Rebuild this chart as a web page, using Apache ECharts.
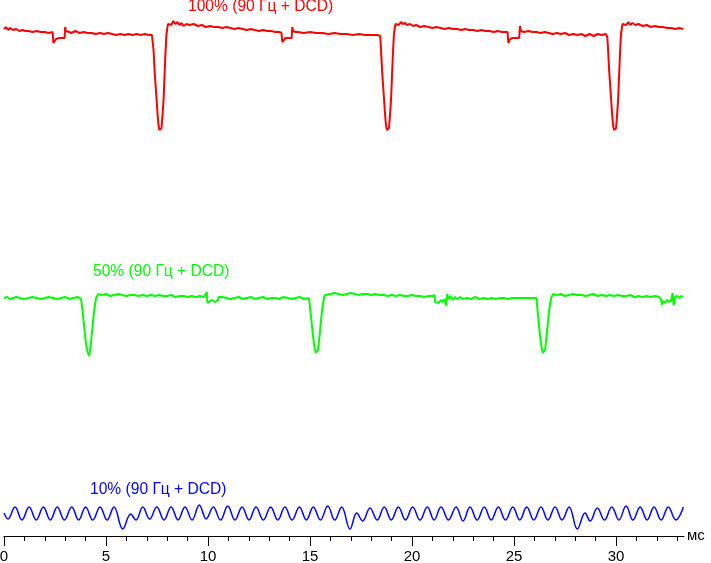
<!DOCTYPE html>
<html>
<head>
<meta charset="utf-8">
<script src="https://cdn.jsdelivr.net/npm/echarts@6/dist/echarts.min.js"></script>
<style>
html,body{margin:0;padding:0;background:#fff;}
#chart{width:711px;height:563px;}
</style>
</head>
<body>
<div id="chart"></div>
<script>
// time axis (ms) tick values
const majorTicks = [0, 5, 10, 15, 20, 25, 30];
const minorTicks = [1,2,3,4,6,7,8,9,11,12,13,14,16,17,18,19,21,22,23,24,26,27,28,29,31,32,33];
const axisMax = 33.33;

// series names
const seriesNames = ['100% (90 Гц + DCD)', '50% (90 Гц + DCD)', '10% (90 Гц + DCD)'];

// brightness traces: [time ms, level (arbitrary units)]
const red100 = [
[0,507],[0.1,509],[0.2,506],[0.3,508],[0.45,506],[0.6,507],[0.75,505],[0.9,506],[1.05,505],[1.2,505],[1.4,504],[1.6,505],[1.8,504],[2.0,504],[2.2,503],[2.38,504],
[2.42,493],[2.47,495],[2.55,497],[2.7,498],[2.85,498],[2.97,498],[3.0,509],[3.03,505],[3.2,504],
[3.3,503],[3.5,505],[3.7,503],[3.9,504],[4.1,503],[4.3,503],[4.5,502],[4.7,503],[4.9,502],[5.1,503],[5.3,502],[5.5,501],[5.7,502],[5.9,501],[6.1,502],[6.3,501],[6.5,502],[6.7,501],[6.9,502],[7.1,501],[7.25,501],
[7.29,500],[7.33,486],[7.38,466],[7.43,451],[7.48,436],[7.53,421],[7.57,411],[7.62,406],[7.67,404],[7.72,408],[7.77,421],[7.82,436],[7.86,456],[7.91,481],[7.96,501],[8.01,509],[8.04,512],
[8.1,514],[8.2,511],[8.3,515],[8.4,512],[8.5,514],[8.6,511],[8.7,513],[8.8,510],[8.95,512],[9.1,511],[9.3,512],[9.5,510],[9.7,511],[9.9,509],[10.1,510],[10.3,509],[10.5,509],[10.7,508],[10.9,509],[11.1,508],[11.3,507],[11.5,508],[11.7,507],[11.9,506],[12.1,507],[12.3,506],[12.5,505],[12.7,506],[12.9,505],[13.1,505],[13.3,504],[13.5,504],[13.6,503],
[13.64,494],[13.7,496],[13.8,498],[14.0,498],[14.1,498],[14.13,509],[14.17,505],[14.3,504],
[14.4,504],[14.7,503],[15.0,504],[15.3,503],[15.6,503],[15.9,502],[16.2,503],[16.5,502],[16.8,502],[17.1,501],[17.4,502],[17.7,501],[18.0,501],[18.3,501],[18.44,500],
[18.48,486],[18.53,466],[18.58,451],[18.63,436],[18.68,421],[18.72,411],[18.77,406],[18.82,404],[18.87,408],[18.92,421],[18.97,436],[19.01,456],[19.06,481],[19.11,501],[19.16,509],[19.19,512],
[19.25,514],[19.35,511],[19.45,514],[19.55,512],[19.65,513],[19.75,511],[19.9,512],[20.05,510],[20.2,511],[20.4,509],[20.6,510],[20.8,509],[21.0,508],[21.2,509],[21.4,508],[21.6,507],[21.8,508],[22.0,507],[22.2,507],[22.4,506],[22.6,507],[22.8,506],[23.0,506],[23.2,505],[23.4,506],[23.6,505],[23.8,505],[24.0,504],[24.2,505],[24.4,504],[24.68,504],
[24.72,493],[24.78,496],[24.9,498],[25.1,498],[25.25,498],[25.29,510],[25.33,505],[25.5,504],[25.7,505],[25.9,504],[26.1,504],[26.3,503],[26.5,504],[26.7,503],[26.9,502],[27.1,503],[27.3,502],[27.5,503],[27.7,501],[27.9,502],[28.1,501],[28.3,502],[28.5,500],[28.7,502],[28.9,500],[29.1,502],[29.3,501],[29.5,502],[29.55,500],
[29.57,499],[29.61,486],[29.66,466],[29.71,451],[29.76,436],[29.81,421],[29.85,411],[29.9,406],[29.95,404],[30.0,408],[30.05,421],[30.1,436],[30.14,456],[30.19,481],[30.24,501],[30.29,509],[30.32,512],
[30.4,513],[30.5,511],[30.6,514],[30.7,511],[30.8,513],[30.95,511],[31.1,512],[31.3,510],[31.5,511],[31.7,509],[31.9,510],[32.1,509],[32.3,509],[32.5,508],[32.7,508],[32.9,507],[33.1,508],[33.3,507]
];

const green50 = [
[0,238],[0.15,239],[0.3,237],[0.45,238],[0.6,239],[0.8,238],[1.0,237],[1.2,238],[1.4,239],[1.6,238],[1.8,237],[2.0,238],[2.2,239],[2.4,238],[2.6,237],[2.8,238],[3.0,239],[3.2,237],[3.4,238],[3.6,239],[3.78,237],
[3.82,236],[3.87,221],[3.92,211],[3.97,201],[4.02,193],[4.07,186],[4.12,183],[4.17,180],[4.22,186],[4.26,193],[4.31,203],[4.36,214],[4.41,224],[4.46,231],[4.51,238],[4.56,240],[4.62,242],
[4.8,241],[5.0,242],[5.2,240],[5.4,241],[5.6,242],[5.8,241],[6.0,240],[6.2,241],[6.4,241],[6.6,240],[6.8,241],[7.0,240],[7.2,241],[7.4,240],[7.6,241],[7.8,240],[8.0,240],[8.2,241],[8.4,239],[8.6,240],[8.8,240],[9.0,239],[9.2,240],[9.4,239],[9.6,240],[9.8,239],[9.94,244],
[9.97,233],[10.05,235],[10.2,236],[10.35,234],[10.49,236],[10.52,239],
[10.7,239],[10.9,238],[11.1,237],[11.3,238],[11.5,239],[11.7,237],[11.9,238],[12.1,239],[12.3,237],[12.5,238],[12.7,239],[12.9,237],[13.1,238],[13.3,238],[13.5,237],[13.7,239],[13.9,238],[14.1,237],[14.3,238],[14.5,239],[14.7,237],[14.95,238],
[14.99,236],[15.04,221],[15.09,211],[15.14,201],[15.19,193],[15.24,186],[15.29,183],[15.34,181],[15.39,186],[15.43,193],[15.48,203],[15.53,214],[15.58,224],[15.63,231],[15.68,238],[15.73,241],[15.8,243],
[16.0,242],[16.2,243],[16.4,242],[16.6,241],[16.8,242],[17.0,243],[17.2,242],[17.4,241],[17.6,242],[17.8,242],[18.0,241],[18.2,242],[18.4,241],[18.6,241],[18.8,240],[19.0,241],[19.2,240],[19.4,241],[19.6,240],[19.8,240],[20.0,241],[20.2,240],[20.4,240],[20.6,239],[20.8,240],[21.0,240],[21.1,241],
[21.13,234],[21.2,236],[21.3,233],[21.4,236],[21.5,234],[21.6,237],[21.68,230],[21.72,242],[21.8,237],[21.9,240],[22.0,236],[22.1,239],[22.2,237],[22.35,239],[22.5,237],[22.7,238],[22.9,237],[23.1,239],[23.3,237],[23.5,238],[23.7,237],[23.9,238],[24.1,237],[24.3,238],[24.5,238],[24.7,237],[24.9,238],[25.1,238],[25.3,238],[25.6,238],[25.9,238],[26.1,238],
[26.12,236],[26.17,221],[26.22,211],[26.27,201],[26.32,193],[26.37,186],[26.42,183],[26.47,182],[26.52,186],[26.56,193],[26.61,203],[26.66,214],[26.71,224],[26.76,231],[26.81,238],[26.86,240],[26.92,242],
[27.1,241],[27.3,242],[27.5,240],[27.7,241],[27.9,242],[28.1,241],[28.3,241],[28.5,240],[28.7,241],[28.9,242],[29.1,240],[29.3,241],[29.5,240],[29.7,241],[29.9,240],[30.1,241],[30.3,240],[30.5,240],[30.7,241],[30.9,239],[31.1,240],[31.3,239],[31.5,240],[31.7,239],[31.9,240],[32.1,239],
[32.2,237],[32.25,231],[32.3,235],[32.4,233],[32.5,236],[32.6,234],[32.7,236],[32.77,243],[32.82,231],[32.9,239],[33.0,240],[33.1,238],[33.2,240],[33.28,239]
];

const blue10 = [
[0,23],[0.2,17],[0.54,29],[0.88,16],[1.23,29],[1.58,16],[1.93,29],[2.27,16],[2.61,29],[2.96,16],[3.32,29],[3.66,16],[4.00,29],[4.35,16],[4.71,29],[5.05,16],[5.39,29],
[5.82,7],[6.21,22],[6.47,16],[6.80,29],[7.14,17],[7.49,29],[7.84,16],[8.19,29],[8.53,16],[8.87,29],[9.22,16],[9.57,31],[9.91,17],[10.26,29],[10.61,16],[10.97,30],[11.32,16],[11.67,29],[12.01,16],[12.35,29],[12.71,16],[13.07,29],[13.42,16],[13.77,29],[14.12,16],[14.48,29],[14.82,16],[15.16,29],[15.51,16],[15.87,30],[16.21,16],[16.55,29],
[16.96,7],[17.29,23],[17.58,15],[17.94,28],[18.29,16],[18.64,29],[18.98,16],[19.33,29],[19.68,16],[20.03,29],[20.39,16],[20.75,29],[21.08,16],[21.42,29],[21.79,16],[22.16,29],[22.5,15],[22.84,29],[23.19,16],[23.54,29],[23.88,16],[24.23,29],[24.58,16],[24.94,29],[25.28,16],[25.62,29],[25.97,16],[26.32,29],[26.66,16],[27.01,29],[27.35,16],[27.70,29],
[28.10,7],[28.48,23],[28.73,15],[29.08,28],[29.43,16],[29.79,29],[30.14,16],[30.49,30],[30.83,16],[31.18,29],[31.52,16],[31.86,29],[32.21,16],[32.56,29],[32.93,16],[33.30,29]
];

const colors = ['#ff0000', '#00ff00', '#0000ff'];
const FONT = '"Liberation Sans", Arial, sans-serif';

const chart = echarts.init(document.getElementById('chart'), null, {renderer: 'canvas'});

const option = {
  animation: false,
  backgroundColor: '#ffffff',
  grid: {left: 4, right: 27, top: 0, bottom: 27, containLabel: false, outerBoundsMode: 'none'},
  xAxis: [
    {
      type: 'value', min: 0, max: axisMax,
      name: 'мс', nameLocation: 'end', nameGap: 3,
      nameTextStyle: {color: '#000', fontSize: 15, fontFamily: FONT, verticalAlign: 'middle', padding: [3, 0, 0, 0]},
      axisLine: {show: true, onZero: false, lineStyle: {color: '#000', width: 1}},
      axisTick: {show: true, length: 10, customValues: majorTicks, lineStyle: {color: '#000', width: 1}},
      axisLabel: {show: true, customValues: majorTicks, color: '#000', fontSize: 15, fontFamily: FONT, margin: 13},
      splitLine: {show: false},
      minorTick: {show: false}
    },
    {
      type: 'value', min: 0, max: axisMax, position: 'bottom', offset: 0,
      axisLine: {show: false, onZero: false},
      axisTick: {show: true, length: 5, customValues: minorTicks, lineStyle: {color: '#000', width: 1}},
      axisLabel: {show: false},
      splitLine: {show: false}
    }
  ],
  yAxis: {type: 'value', min: 0, max: 536, show: false, splitLine: {show: false}},
  series: [
    {name: seriesNames[0], type: 'line', data: red100, xAxisIndex: 0, showSymbol: false, symbol: 'none',
     lineStyle: {color: colors[0], width: 2}, itemStyle: {color: colors[0]}},
    {name: seriesNames[1], type: 'line', data: green50, xAxisIndex: 0, showSymbol: false, symbol: 'none',
     lineStyle: {color: colors[1], width: 2}, itemStyle: {color: colors[1]}},
    {name: seriesNames[2], type: 'line', data: blue10, xAxisIndex: 0, showSymbol: false, symbol: 'none', smooth: 0.4,
     lineStyle: {color: colors[2], width: 1.5}, itemStyle: {color: colors[2]}}
  ],
  graphic: [
    {type: 'text', x: 188, y: 7, style: {text: seriesNames[0], fill: colors[0], font: '15.6px ' + FONT, textVerticalAlign: 'middle', verticalAlign: 'middle'}},
    {type: 'text', x: 93, y: 271.5, style: {text: seriesNames[1], fill: colors[1], font: '15.6px ' + FONT, textVerticalAlign: 'middle', verticalAlign: 'middle'}},
    {type: 'text', x: 90, y: 489.5, style: {text: seriesNames[2], fill: colors[2], font: '15.6px ' + FONT, textVerticalAlign: 'middle', verticalAlign: 'middle'}}
  ]
};
chart.setOption(option);
</script>
</body>
</html>
